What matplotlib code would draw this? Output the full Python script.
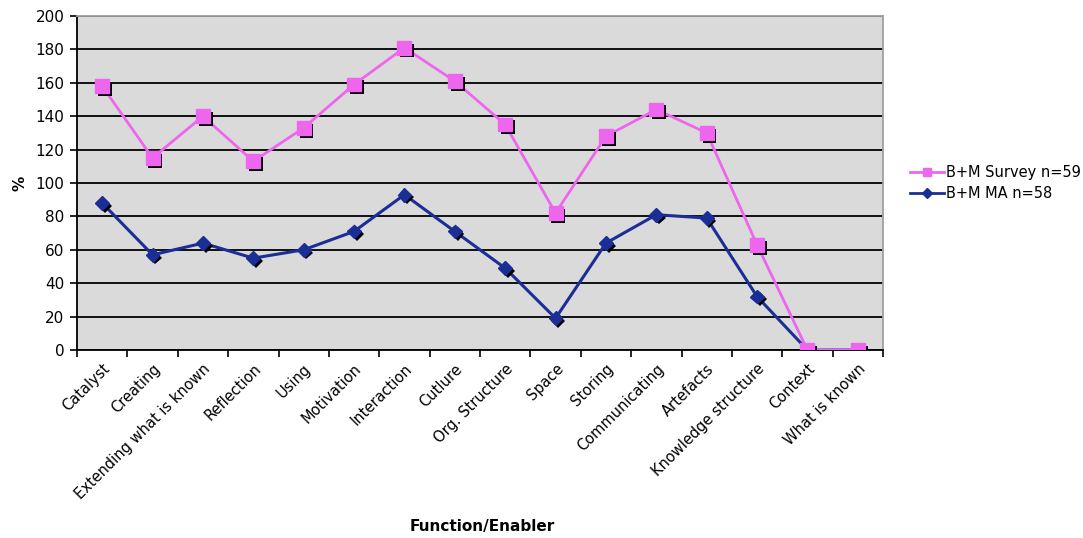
import os
import matplotlib
matplotlib.use("Agg")
import matplotlib.pyplot as plt
import matplotlib.patheffects as pe
from matplotlib import font_manager
from matplotlib.lines import Line2D
import numpy as np

categories = ["Catalyst", "Creating", "Extending what is known", "Reflection", "Using",
              "Motivation", "Interaction", "Cutlure", "Org. Structure", "Space", "Storing",
              "Communicating", "Artefacts", "Knowledge structure", "Context", "What is known"]
survey = [158, 115, 140, 113, 133, 159, 181, 161, 135, 82, 128, 144, 130, 63, 0, 0]
ma = [88, 57, 64, 55, 60, 71, 93, 71, 49, 19, 64, 81, 79, 32, 0, 0]

survey_color = "#EE66EE"
ma_color = "#1B2E96"

# Use the DejaVu Sans files bundled with matplotlib
ttf_dir = os.path.join(matplotlib.get_data_path(), "fonts", "ttf")
for fname in ("DejaVuSans.ttf", "DejaVuSans-Bold.ttf"):
    path = os.path.join(ttf_dir, fname)
    if os.path.exists(path):
        font_manager.fontManager.addfont(path)
plt.rcParams["font.family"] = ["DejaVu Sans"]

fig = plt.figure(figsize=(10.83, 5.38), dpi=100)
ax = fig.add_axes([77 / 1083, 1 - 350 / 538, 806 / 1083, 334 / 538])
ax.set_facecolor("#DADADA")

x = np.arange(len(categories))
shadow = [pe.SimplePatchShadow(offset=(2, -2), shadow_rgbFace="black", alpha=1.0), pe.Normal()]

# Blue series first so the violet one sits on top
ax.plot(x, ma, color=ma_color, lw=2.2, zorder=3)
ax.plot(x, ma, ls="none", marker="D", ms=7, color=ma_color, mec=ma_color,
        zorder=4, path_effects=shadow)
ax.plot(x, survey, color=survey_color, lw=2, zorder=5)
ax.plot(x, survey, ls="none", marker="s", ms=10, color=survey_color, mec=survey_color,
        zorder=6, path_effects=shadow)

ax.set_xlim(-0.5, len(categories) - 0.5)
ax.set_ylim(0, 200)
ax.set_yticks(np.arange(0, 201, 20))
ax.yaxis.grid(True, color="black", lw=1.3)
ax.set_axisbelow(True)

# Tick marks on category boundaries, labels at category centres
ax.set_xticks(np.arange(-0.5, len(categories), 1.0))
ax.set_xticklabels([])
ax.set_xticks(x, minor=True)
ax.set_xticklabels(categories, minor=True, rotation=45, ha="right",
                   rotation_mode="anchor", fontsize=10.5)
ax.tick_params(axis="x", which="minor", length=0, pad=8)
ax.tick_params(axis="x", which="major", length=5, width=1.2, direction="out")
ax.tick_params(axis="y", length=5, width=1.2, direction="out", labelsize=11, pad=4)

for side in ("left", "bottom"):
    ax.spines[side].set_color("black")
    ax.spines[side].set_linewidth(1.3)
for side in ("top", "right"):
    ax.spines[side].set_color("#A0A0A0")
    ax.spines[side].set_linewidth(1.3)

ax.set_ylabel("%", fontweight="bold", fontsize=11, labelpad=6)
fig.text(482 / 1083, 1 - 527 / 538, "Function/Enabler", fontweight="bold",
         fontsize=11, ha="center", va="center")

leg_handles = [
    Line2D([], [], color=survey_color, lw=2, marker="s", ms=6),
    Line2D([], [], color=ma_color, lw=2, marker="D", ms=5),
]
fig.legend(leg_handles, ["B+M Survey n=59", "B+M MA n=58"], loc="center left",
           bbox_to_anchor=(910 / 1083, 1 - 183 / 538), frameon=False, fontsize=10.5,
           handlelength=2.3, handletextpad=0.2, labelspacing=0.4, borderpad=0,
           borderaxespad=0)

fig.savefig("out.png", dpi=100)
